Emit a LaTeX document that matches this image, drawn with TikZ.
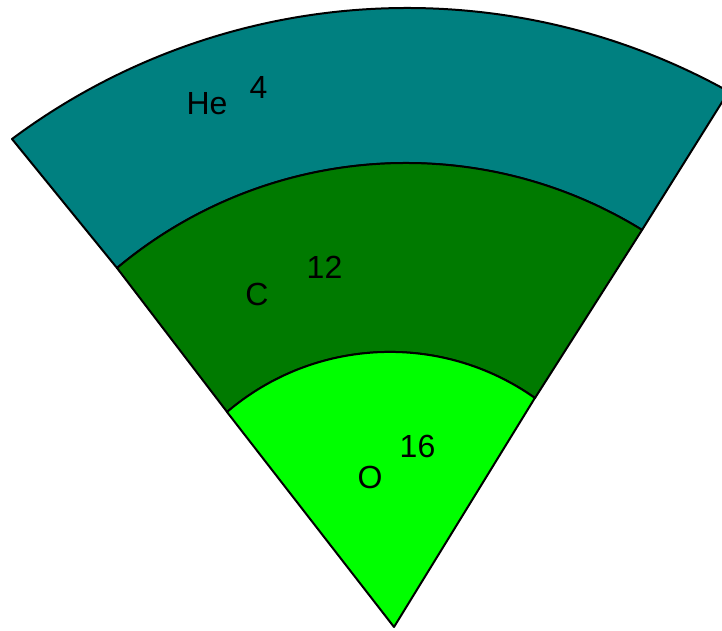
\documentclass[tikz,border=0pt]{standalone}
\usepackage{fontspec}
\setmainfont{Liberation Sans}
\definecolor{heteal}{HTML}{008080}
\definecolor{cgreen}{HTML}{007A00}
\definecolor{ogreen}{HTML}{00FF00}
\begin{document}
\begin{tikzpicture}[x=1pt,y=1pt,
  shell/.style={draw=black,line width=2pt,line join=round},
  lbl/.style={inner sep=0pt,font=\fontsize{32}{36}\selectfont,text=black}]
\useasboundingbox (0,0) rectangle (722,630);
% corners (y up)
\coordinate (A)  at (394,3);
\coordinate (OL) at (12,491);
\coordinate (ML) at (117,362);
\coordinate (MR) at (642,400);
\coordinate (IL) at (227,218);
\coordinate (IR) at (535,232);
% He shell
\path[shell,fill=heteal] (ML) -- (OL)
  arc[start angle=126.70,end angle=60.88,radius=661pt]
  -- (MR) arc[start angle=58.35,end angle=129.95,radius=450pt] -- cycle;
% C shell
\path[shell,fill=cgreen] (ML)
  arc[start angle=129.95,end angle=58.35,radius=450pt]
  -- (IR) arc[start angle=54.73,end angle=130.48,radius=251pt] -- cycle;
% O core
\path[shell,fill=ogreen] (IL)
  arc[start angle=130.48,end angle=54.73,radius=251pt]
  -- (A) -- cycle;
% labels
\node[lbl] (he)  at (207,526.5) {He};
\node[lbl] (he4) at (258.5,542.5) {4};
\node[lbl] (c)   at (257,335.5) {C};
\node[lbl] (c12) at (324.5,363) {12};
\node[lbl] (o)   at (370,153) {O};
\node[lbl] (o16) at (417.5,183.5) {16};
\end{tikzpicture}
\end{document}
